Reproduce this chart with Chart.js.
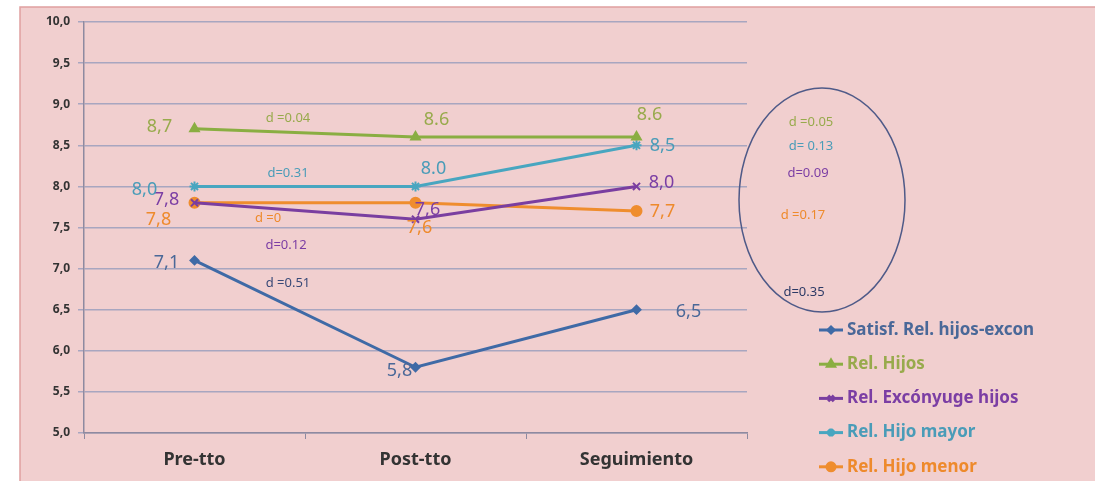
<!DOCTYPE html>
<html>
<head>
<meta charset="utf-8">
<script src="https://cdn.jsdelivr.net/npm/chart.js@4.4.1/dist/chart.umd.min.js"></script>
<style>
  html, body { margin: 0; padding: 0; background: #fff; }
  #wrap { width: 1095px; height: 481px; }
</style>
</head>
<body>
<div id="wrap"><canvas id="myChart" width="1095" height="481"></canvas></div>
<script>
// categorías y series
const momentos = ['Pre-tto', 'Post-tto', 'Seguimiento'];

const satisfExcon = [7.1, 5.8, 6.5];
const relHijos = [8.7, 8.6, 8.6];
const relExconyuge = [7.8, 7.6, 8.0];
const hijoMayor = [8.0, 8.0, 8.5];
const hijoMenor = [7.8, 7.8, 7.7];

// etiquetas tal como aparecen en el gráfico
const etqExcon = ['7,1', '5,8', '6,5'];
const etqHijos = ['8,7', '8.6', '8.6'];
const etqExconyuge = ['7,8', '7,6', '8,0'];
const etqMayor = ['8,0', '8.0', '8,5'];
const etqMenor = ['7,8', '7,6', '7,7'];

const nombres = ['Satisf. Rel. hijos-excon', 'Rel. Hijos', 'Rel. Excónyuge hijos', 'Rel. Hijo mayor', 'Rel. Hijo menor'];
const colores = ['#3f6aa6', '#8aae42', '#7a3ea0', '#48a6c0', '#ef8d2e'];
const colTexto = ['#4a6898', '#98aa4c', '#7b3ea4', '#4a9cb8', '#ee8a2c'];

// tamaños del efecto (d)
const dTramo = ['d =0.51', 'd =0.04', 'd=0.12', 'd=0.31', 'd =0'];
const dTotal = ['d=0.35', 'd =0.05', 'd=0.09', 'd= 0.13', 'd =0.17'];

//* desplazamientos de las etiquetas de valor [dx, dy]
const despl = [
  [[-28, 2], [-16, 4], [52, 2]],
  [[-35, -2], [21, -17], [13, -22]],
  [[-28, -3], [12, -9], [25, -4]],
  [[-50, 3], [18, -18], [26, 1]],
  [[-36, 17], [4, 25], [26, 1]]
];

const fuente = '"Noto Sans", "Open Sans", sans-serif';

const fondo = {
  id: 'fondo',
  beforeDraw(chart) {
    const c = chart.ctx;
    c.save();
    c.fillStyle = '#ffffff';
    c.fillRect(0, 0, chart.width, chart.height);
    c.fillStyle = '#f1cfcf';
    c.fillRect(20, 7, chart.width - 20, chart.height - 7);
    c.strokeStyle = '#e0a0a0';
    c.lineWidth = 1.5;
    c.strokeRect(20, 7, chart.width - 19, chart.height - 6);
    c.restore();
  }
};

const extras = {
  id: 'extras',
  afterDatasetsDraw(chart) {
    const c = chart.ctx;
    const x = chart.scales.x;
    const y = chart.scales.y;
    c.save();
    c.textAlign = 'center';
    c.textBaseline = 'middle';

    // etiquetas de valores
    c.font = '18px ' + fuente;
    chart.data.datasets.forEach((ds, i) => {
      ds.data.forEach((v, j) => {
        const px = x.getPixelForValue(j) + despl[i][j][0];
        const py = y.getPixelForValue(v) + despl[i][j][1];
        c.fillStyle = colTexto[i];
        c.fillText(ds.etiquetas[j], px, py);
      });
    });

    // d entre pre y post
    c.font = '13px ' + fuente;
    const tramoY = [283, 118, 245, 173, 218];
    const tramoX = [288, 288, 286, 288, 268];
    dTramo.forEach((t, i) => {
      c.fillStyle = i === 0 ? '#3a4a78' : colTexto[i];
      c.fillText(t, tramoX[i], tramoY[i]);
    });

    // elipse con d total
    c.strokeStyle = '#4f5a88';
    c.lineWidth = 1.5;
    c.beginPath();
    c.ellipse(822, 200, 83, 112, 0, 0, Math.PI * 2);
    c.stroke();
    const totY = [292, 122, 173, 146, 215];
    const totX = [804, 811, 808, 811, 803];
    dTotal.forEach((t, i) => {
      c.fillStyle = i === 0 ? '#2c3a66' : colTexto[i];
      c.fillText(t, totX[i], totY[i]);
    });

    // leyenda
    c.font = 'bold 17px ' + fuente;
    c.textAlign = 'left';
    chart.data.datasets.forEach((ds, i) => {
      const ly = 330 + i * 34.2;
      c.strokeStyle = colores[i];
      c.fillStyle = colores[i];
      c.lineWidth = 3;
      c.beginPath();
      c.moveTo(819, ly);
      c.lineTo(843, ly);
      c.stroke();
      Chart.helpers.drawPoint(c, {
        pointStyle: ds.pointStyle, radius: ds.pointRadius - 1, borderWidth: 2
      }, 831, ly);
      c.fillStyle = colTexto[i];
      c.fillText(nombres[i], 847, ly);
    });
    c.restore();
  }
};

function serie(i, datos, etq, estilo, radio) {
  return {
    label: nombres[i],
    data: datos,
    etiquetas: etq,
    borderColor: colores[i],
    backgroundColor: colores[i],
    pointBackgroundColor: colores[i],
    pointBorderColor: colores[i],
    borderWidth: 3,
    pointStyle: estilo,
    pointRadius: radio,
    pointBorderWidth: 2,
    tension: 0,
    fill: false
  };
}

const ctx = document.getElementById('myChart');

const grafico = new Chart(ctx, {
  type: 'line',
  data: {
    labels: momentos,
    datasets: [
      serie(0, satisfExcon, etqExcon, 'rectRot', 4),
      serie(1, relHijos, etqHijos, 'triangle', 5),
      serie(2, relExconyuge, etqExconyuge, 'crossRot', 5),
      serie(3, hijoMayor, etqMayor, 'star', 5),
      serie(4, hijoMenor, etqMenor, 'circle', 5)
    ]
  },
  options: {
    responsive: false,
    animation: false,
    layout: { padding: { top: 22, right: 348, left: 0, bottom: 0 } },
    plugins: {
      legend: { display: false },
      tooltip: { enabled: false }
    },
    scales: {
      x: {
        offset: true,
        grid: { offset: true, drawOnChartArea: false, drawTicks: true, tickLength: 6, color: '#8e8aa0' },
        border: { color: '#8e8aa0', width: 1.5 },
        ticks: {
          color: '#333333',
          padding: 10,
          font: { family: fuente, size: 18, weight: 'bold' }
        },
        afterFit(scale) { scale.height = 48; }
      },
      y: {
        min: 5,
        max: 10,
        grid: { color: '#a8a6c0', lineWidth: 1.5, tickLength: 6 },
        border: { color: '#8e8aa0', width: 1.5 },
        ticks: {
          stepSize: 0.5,
          color: '#333333',
          padding: 8,
          font: { family: fuente, size: 12, weight: 'bold' },
          callback: v => v.toFixed(1).replace('.', ',')
        },
        afterFit(scale) { scale.width = 84; }
      }
    }
  },
  plugins: [fondo, extras]
});
</script>
</body>
</html>
